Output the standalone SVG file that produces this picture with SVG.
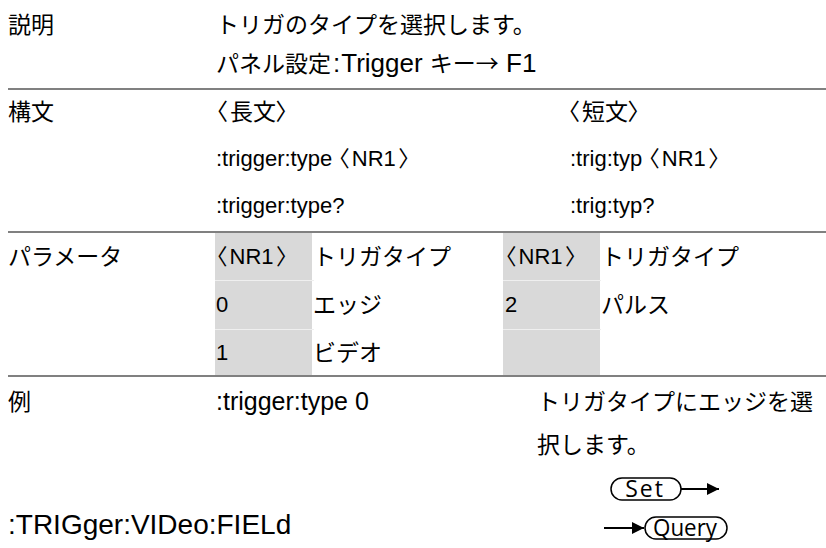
<svg xmlns="http://www.w3.org/2000/svg" width="826" height="548" viewBox="0 0 826 548">
  <style>
    .jp { font-family: "Noto Sans CJK JP", "Noto Sans CJK SC", sans-serif; font-size: 23px; fill: #000; }
    .en { font-family: "Liberation Sans", "Noto Sans CJK JP", sans-serif; font-size: 22px; fill: #000; }
    .big { font-size: 26px; }
    .br { font-family: "Noto Sans CJK JP", sans-serif; font-feature-settings: "palt"; letter-spacing: 2.5px; }
    .rule { stroke: #808080; stroke-width: 2; }
    .cell { fill: #d9d9d9; }
    .sep { stroke: #efefef; stroke-width: 1; }
    .pill { fill: #fff; stroke: #000; stroke-width: 1.5; }
    .pilltxt { font-family: "Open Sans", "DejaVu Sans", sans-serif; font-size: 23px; fill: #000; }
    .arrow { stroke: #000; stroke-width: 2; fill: none; }
  </style>
  <defs>
    <marker id="head" viewBox="0 0 10 10" refX="10" refY="5" markerWidth="6" markerHeight="6" orient="auto" markerUnits="strokeWidth">
      <path d="M0,0 L10,5 L0,10 z" fill="#000"/>
    </marker>
  </defs>
  <rect width="826" height="548" fill="#fff"/>

  <!-- horizontal rules between sections -->
  <g id="rules">
    <line class="rule" x1="8" y1="89" x2="826" y2="89"/>
    <line class="rule" x1="8" y1="232" x2="826" y2="232"/>
    <line class="rule" x1="8" y1="376" x2="826" y2="376"/>
  </g>

  <!-- description -->
  <g id="description">
    <text class="jp" x="8" y="33">説明</text>
    <text class="jp" x="216" y="33">トリガのタイプを選択します。</text>
    <text x="216" y="72"><tspan class="jp">パネル設定</tspan><tspan class="en big" dx="2">:</tspan><tspan class="en big" dx="1">Trigger </tspan><tspan class="jp">キー→</tspan><tspan class="en big"> F1</tspan></text>
  </g>

  <!-- syntax -->
  <g id="syntax">
    <text class="jp" x="8" y="120">構文</text>
    <text class="jp" x="216" y="120"><tspan class="br">〈</tspan>長文<tspan class="br">〉</tspan></text>
    <text class="jp" x="568" y="120"><tspan class="br">〈</tspan>短文<tspan class="br">〉</tspan></text>
    <text class="en" x="216" y="166">:trigger:type <tspan class="br">〈</tspan>NR1<tspan class="br" dx="3">〉</tspan></text>
    <text class="en" x="570" y="166">:trig:typ <tspan class="br">〈</tspan>NR1<tspan class="br" dx="3">〉</tspan></text>
    <text class="en" x="216" y="213">:trigger:type?</text>
    <text class="en" x="570" y="213">:trig:typ?</text>
  </g>

  <!-- parameter table -->
  <g id="parameters">
    <text class="jp" x="8" y="265">パラメータ</text>
    <rect class="cell" x="215" y="233" width="97" height="142"/>
    <rect class="cell" x="503" y="233" width="97" height="142"/>
    <line class="sep" x1="215" y1="280.5" x2="314" y2="280.5"/>
    <line class="sep" x1="215" y1="329.5" x2="314" y2="329.5"/>
    <line class="sep" x1="503" y1="280.5" x2="601" y2="280.5"/>
    <line class="sep" x1="503" y1="329.5" x2="601" y2="329.5"/>
    <text class="en" x="216" y="264"><tspan class="br">〈</tspan>NR1<tspan class="br" dx="3">〉</tspan></text>
    <text class="jp" x="313" y="265">トリガタイプ</text>
    <text class="en" x="216" y="312">0</text>
    <text class="jp" x="313" y="313">エッジ</text>
    <text class="en" x="216" y="360">1</text>
    <text class="jp" x="313" y="361">ビデオ</text>
    <text class="en" x="505" y="264"><tspan class="br">〈</tspan>NR1<tspan class="br" dx="3">〉</tspan></text>
    <text class="jp" x="601" y="265">トリガタイプ</text>
    <text class="en" x="505" y="312">2</text>
    <text class="jp" x="601" y="313">パルス</text>
  </g>

  <!-- example -->
  <g id="example">
    <text class="jp" x="8" y="410">例</text>
    <text class="en" x="216" y="410" style="font-size:25px">:trigger:type 0</text>
    <text class="jp" x="537" y="410">トリガタイプにエッジを選</text>
    <text class="jp" x="537" y="453">択します。</text>
  </g>

  <!-- command path -->
  <g id="command">
    <text class="en" x="8" y="534" style="font-size:28px">:TRIGger:VIDeo:FIELd</text>
  </g>

  <!-- Set / Query badges -->
  <g id="set-badge">
    <rect class="pill" x="611" y="478" width="70" height="22" rx="11"/>
    <text class="pilltxt" x="645" y="497" text-anchor="middle" letter-spacing="2">Set</text>
  </g>
  <g id="query-badge">
    <rect class="pill" x="645" y="517" width="82" height="22" rx="11"/>
    <text class="pilltxt" x="685" y="535.5" text-anchor="middle" textLength="64" lengthAdjust="spacingAndGlyphs">Query</text>
  </g>
  <g id="connectors">
    <line class="arrow" x1="681" y1="489" x2="719" y2="489" marker-end="url(#head)"/>
    <line class="arrow" x1="604" y1="528" x2="644" y2="528" marker-end="url(#head)"/>
  </g>
</svg>
